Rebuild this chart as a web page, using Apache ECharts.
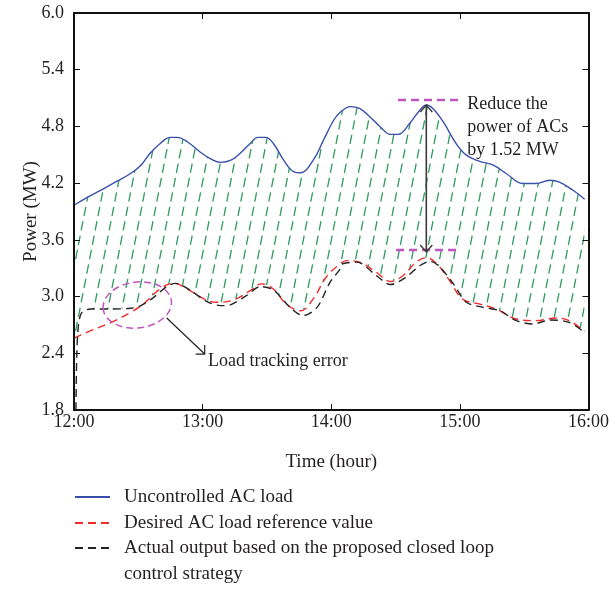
<!DOCTYPE html>
<html>
<head>
<meta charset="utf-8">
<script src="https://cdn.jsdelivr.net/npm/echarts@6/dist/echarts.min.js"></script>
<style>
  html, body { margin: 0; padding: 0; background: #fff; }
  #chart { width: 612px; height: 593px; }
</style>
</head>
<body>
<div id="chart"></div>
<script>
// time in hours, power in MW
const blueT = [12.00, 12.10, 12.21, 12.31, 12.44, 12.52, 12.59, 12.67, 12.75, 12.80, 12.88, 12.98, 13.06, 13.14, 13.22, 13.29, 13.37, 13.43, 13.49, 13.55, 13.63, 13.71, 13.76, 13.86, 13.94, 14.02, 14.07, 14.15, 14.22, 14.30, 14.38, 14.46, 14.52, 14.61, 14.69, 14.74, 14.79, 14.87, 14.97, 15.05, 15.15, 15.26, 15.36, 15.49, 15.59, 15.70, 15.77, 15.88, 15.97];
const blueV = [3.966, 4.047, 4.125, 4.202, 4.302, 4.39, 4.514, 4.62, 4.684, 4.684, 4.638, 4.53, 4.46, 4.42, 4.443, 4.514, 4.62, 4.684, 4.684, 4.62, 4.443, 4.32, 4.31, 4.443, 4.656, 4.868, 4.95, 5.01, 4.99, 4.903, 4.797, 4.716, 4.716, 4.833, 4.974, 5.027, 4.99, 4.85, 4.62, 4.496, 4.433, 4.39, 4.302, 4.196, 4.196, 4.23, 4.213, 4.125, 4.03];

const refT = [12.00, 12.13, 12.29, 12.44, 12.54, 12.67, 12.78, 12.88, 13.01, 13.11, 13.24, 13.37, 13.46, 13.55, 13.65, 13.76, 13.86, 13.96, 14.07, 14.12, 14.22, 14.35, 14.46, 14.56, 14.66, 14.74, 14.82, 14.92, 15.02, 15.15, 15.28, 15.44, 15.59, 15.75, 15.85, 15.97];
const refV = [2.56, 2.639, 2.727, 2.833, 2.922, 3.081, 3.14, 3.08, 2.975, 2.94, 2.964, 3.063, 3.134, 3.08, 2.922, 2.85, 2.975, 3.204, 3.347, 3.38, 3.364, 3.258, 3.16, 3.223, 3.364, 3.41, 3.347, 3.17, 2.975, 2.922, 2.869, 2.763, 2.745, 2.773, 2.745, 2.63];

const actT = [12.015, 12.022, 12.035, 12.06, 12.13, 12.29, 12.44, 12.52, 12.62, 12.72, 12.79, 12.90, 13.03, 13.14, 13.22, 13.34, 13.45, 13.55, 13.68, 13.78, 13.89, 13.99, 14.07, 14.09, 14.20, 14.35, 14.46, 14.58, 14.69, 14.77, 14.84, 14.95, 15.05, 15.18, 15.31, 15.44, 15.57, 15.70, 15.85, 15.97];
const actV = [1.8, 2.4, 2.7, 2.83, 2.869, 2.869, 2.876, 2.904, 2.992, 3.106, 3.14, 3.07, 2.95, 2.904, 2.915, 3.01, 3.106, 3.07, 2.886, 2.798, 2.886, 3.15, 3.293, 3.347, 3.364, 3.223, 3.127, 3.204, 3.329, 3.374, 3.318, 3.134, 2.94, 2.886, 2.85, 2.745, 2.71, 2.752, 2.727, 2.62];

const names = ['Uncontrolled AC load', 'Desired AC load reference value', 'Actual output based on the proposed closed loop control strategy'];

const font = 'Liberation Serif';
const ink = '#231f20';

function pairs(t, v) {
    return t.map((x, i) => [x, v[i]]);
}

// slanted dashed hatch tile
const tile = document.createElement('canvas');
tile.width = 14;
tile.height = 72;
const ctx = tile.getContext('2d');
ctx.strokeStyle = '#2f9b5f';
ctx.lineWidth = 1.3;
const per = Math.hypot(14, 72) / 5;
ctx.setLineDash([per * 0.64, per * 0.36]);
[-14, 0, 14].forEach(dx => {
    ctx.beginPath();
    ctx.moveTo(dx, 72);
    ctx.lineTo(dx + 14, 0);
    ctx.stroke();
});

const axisLine = {show: true, lineStyle: {color: '#111', width: 2}};
const tick = {show: true, inside: true, length: 6, lineStyle: {color: '#111', width: 1}};
const legendText = {fontFamily: font, fontSize: 19, lineHeight: 26, color: ink, padding: [0, 0, 0, 9]};

const chart = echarts.init(document.getElementById('chart'));
const option = {
    backgroundColor: '#fff',
    animation: false,
    grid: {left: 74, right: 22, top: 13, bottom: 183},
    xAxis: [{
        type: 'value', min: 12, max: 16, interval: 1, z: 4,
        axisLine: axisLine, axisTick: tick, splitLine: {show: false},
        axisLabel: {formatter: v => v + ':00', fontFamily: font, fontSize: 18, color: ink, margin: 3},
        name: 'Time (hour)', nameLocation: 'middle', nameGap: 43,
        nameTextStyle: {fontFamily: font, fontSize: 19, color: ink}
    }, {
        type: 'value', min: 12, max: 16, interval: 1, position: 'top', z: 4,
        axisLine: axisLine, axisTick: tick, splitLine: {show: false}, axisLabel: {show: false}
    }],
    yAxis: [{
        type: 'value', min: 1.8, max: 6.0, interval: 0.6, z: 4,
        axisLine: axisLine, axisTick: tick, splitLine: {show: false},
        axisLabel: {formatter: v => v.toFixed(1), fontFamily: font, fontSize: 18, color: ink, margin: 10},
        name: 'Power (MW)', nameLocation: 'middle', nameGap: 33, nameRotate: 90,
        nameMoveOverlap: false,
        nameTextStyle: {fontFamily: font, fontSize: 19, color: ink}
    }, {
        type: 'value', min: 1.8, max: 6.0, interval: 0.6, position: 'right', z: 4,
        axisLine: axisLine, axisTick: tick, splitLine: {show: false}, axisLabel: {show: false}
    }],
    legend: [{
        data: names.slice(0, 2),
        orient: 'vertical', left: 74, top: 484, padding: 0,
        itemWidth: 35, itemHeight: 14, itemGap: 0, selectedMode: false,
        itemStyle: {opacity: 0},
        textStyle: legendText
    }, {
        data: names.slice(2),
        orient: 'vertical', left: 74, top: 509, padding: 0,
        itemWidth: 35, itemHeight: 14, itemGap: 0, selectedMode: false,
        itemStyle: {opacity: 0},
        // leading blank line keeps the icon level with the first line of text
        formatter: n => '\n' + n.replace(' control', '\ncontrol'),
        textStyle: legendText
    }],
    series: [{
        name: names[0], type: 'line', z: 1, smooth: 0.4,
        symbol: 'none', showSymbol: false,
        lineStyle: {color: '#3a50ad', width: 1.4},
        itemStyle: {color: '#3a50ad'},
        areaStyle: {origin: 'start', opacity: 1, color: {image: tile, repeat: 'repeat'}},
        data: pairs(blueT, blueV)
    }, {
        name: 'refFill', type: 'line', z: 2, smooth: 0.4, symbol: 'none',
        lineStyle: {width: 0, opacity: 0},
        areaStyle: {origin: 'start', color: '#fff', opacity: 1},
        data: pairs(refT, refV)
    }, {
        name: 'actFill', type: 'line', z: 2, smooth: 0.3, symbol: 'none',
        lineStyle: {width: 0, opacity: 0},
        areaStyle: {origin: 'start', color: '#fff', opacity: 1},
        data: pairs(actT, actV)
    }, {
        name: names[1], type: 'line', z: 3, smooth: 0.4,
        symbol: 'none', showSymbol: false,
        lineStyle: {color: '#f22a2a', width: 1.4, type: [8, 5]},
        itemStyle: {color: '#f22a2a'},
        data: pairs(refT, refV)
    }, {
        name: names[2], type: 'line', z: 3, smooth: 0.3,
        symbol: 'none', showSymbol: false,
        lineStyle: {color: '#222', width: 1.4, type: [8, 5]},
        itemStyle: {color: '#222'},
        data: pairs(actT, actV)
    }]
};
chart.setOption(option);

// annotations, anchored in data coordinates
const px = (t, v) => chart.convertToPixel({gridIndex: 0}, [t, v]);
const purple = '#bf55bf';
const arrowInk = '#3a3a3a';

const ell = px(12.492, 2.911);
const ellR = px(12.492 + 0.267, 2.911 - 0.243);
const trkA = px(12.721, 2.773);
const trkB = px(13.016, 2.392);
const trkTxt = px(13.041, 2.311);
const upTop = px(14.739, 5.027);
const upBot = px(14.739, 3.472);
const dashTopA = px(14.519, 5.08), dashTopB = px(15.0, 5.08);
const dashBotA = px(14.504, 3.493), dashBotB = px(14.984, 3.493);
const noteTxt = px(15.057, 5.159);

chart.setOption({
    graphic: [{
        type: 'ellipse', z: 10,
        rotation: 0.12, originX: ell[0], originY: ell[1],
        shape: {cx: ell[0], cy: ell[1], rx: ellR[0] - ell[0], ry: ellR[1] - ell[1]},
        style: {fill: 'none', stroke: purple, lineWidth: 1.5, lineDash: [7, 4]}
    }, {
        type: 'line', z: 10,
        shape: {x1: trkA[0], y1: trkA[1], x2: trkB[0], y2: trkB[1]},
        style: {stroke: '#222', lineWidth: 1.2}
    }, {
        type: 'polyline', z: 10,
        shape: {points: [[trkB[0] - 9, trkB[1]], trkB, [trkB[0], trkB[1] - 9]]},
        style: {fill: 'none', stroke: '#222', lineWidth: 1.2}
    }, {
        type: 'text', z: 10, x: trkTxt[0], y: trkTxt[1],
        style: {text: 'Load tracking error', font: '18px "Liberation Serif"', fill: ink, verticalAlign: 'middle'}
    }, {
        type: 'line', z: 10,
        shape: {x1: dashTopA[0], y1: dashTopA[1], x2: dashTopB[0], y2: dashTopB[1]},
        style: {stroke: purple, lineWidth: 2.5, lineDash: [8, 5]}
    }, {
        type: 'line', z: 10,
        shape: {x1: dashBotA[0], y1: dashBotA[1], x2: dashBotB[0], y2: dashBotB[1]},
        style: {stroke: purple, lineWidth: 2.5, lineDash: [8, 5]}
    }, {
        type: 'line', z: 11,
        shape: {x1: upTop[0], y1: upTop[1], x2: upBot[0], y2: upBot[1]},
        style: {stroke: arrowInk, lineWidth: 1.6}
    }, {
        type: 'polyline', z: 11,
        shape: {points: [[upTop[0] - 6, upTop[1] + 7], upTop, [upTop[0] + 6, upTop[1] + 7]]},
        style: {fill: 'none', stroke: arrowInk, lineWidth: 1.4}
    }, {
        type: 'polyline', z: 11,
        shape: {points: [[upBot[0] - 6, upBot[1] - 7], upBot, [upBot[0] + 6, upBot[1] - 7]]},
        style: {fill: 'none', stroke: arrowInk, lineWidth: 1.4}
    }, {
        type: 'text', z: 10, x: noteTxt[0], y: noteTxt[1],
        style: {text: 'Reduce the\npower of ACs\nby 1.52 MW', font: '18px "Liberation Serif"', lineHeight: 23, fill: ink, verticalAlign: 'top'}
    }]
});
</script>
</body>
</html>
